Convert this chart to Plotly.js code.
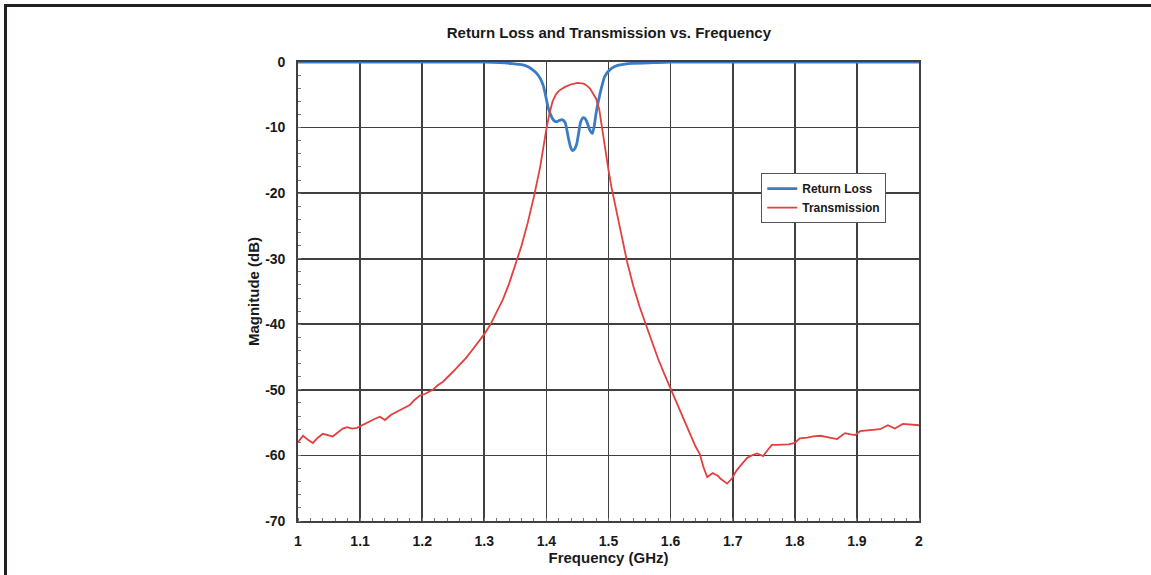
<!DOCTYPE html>
<html>
<head>
<meta charset="utf-8">
<script src="https://cdn.plot.ly/plotly-3.0.1.min.js"></script>
<style>
  html, body { margin: 0; padding: 0; background: #fff; }
  #wrap { position: relative; width: 1151px; height: 575px; overflow: hidden; }
  #chart { position: absolute; left: 0; top: 0; width: 1151px; height: 575px; }
  #frame { position: absolute; left: 4px; top: 4px; width: 1200px; height: 700px;
           border-left: 3px solid #231f20; border-top: 3px solid #231f20; pointer-events: none; }
</style>
</head>
<body>
<div id="wrap"><div id="chart"></div><div id="frame"></div></div>
<script>
// Transmission (S21), dB
const transFreq = [1.000,1.008,1.016,1.024,1.032,1.040,1.048,1.056,1.064,1.072,1.079,1.087,1.095,1.105,1.116,1.124,1.132,1.140,1.150,1.159,1.170,1.180,1.188,1.196,1.205,1.217,1.225,1.233,1.24,1.25,1.26,1.27,1.28,1.29,1.30,1.31,1.32,1.33,1.34,1.35,1.36,1.37,1.38,1.39,1.395,1.40,1.405,1.41,1.415,1.42,1.43,1.44,1.45,1.46,1.465,1.47,1.475,1.48,1.485,1.49,1.495,1.50,1.505,1.51,1.52,1.53,1.54,1.55,1.56,1.57,1.58,1.59,1.60,1.61,1.62,1.63,1.64,1.647,1.653,1.659,1.664,1.668,1.672,1.676,1.681,1.686,1.691,1.695,1.699,1.703,1.707,1.715,1.723,1.731,1.739,1.744,1.749,1.756,1.763,1.772,1.781,1.790,1.800,1.808,1.820,1.830,1.841,1.855,1.868,1.875,1.881,1.890,1.897,1.905,1.920,1.937,1.950,1.961,1.974,1.985,2.000];
const transDb = [-58.0,-57.0,-57.6,-58.1,-57.3,-56.7,-56.9,-57.1,-56.5,-55.9,-55.7,-55.9,-55.8,-55.3,-54.8,-54.4,-54.1,-54.6,-53.8,-53.3,-52.8,-52.3,-51.5,-50.9,-50.6,-50.0,-49.3,-48.8,-48.2,-47.2,-46.2,-45.2,-44.0,-42.8,-41.5,-40.0,-38.2,-36.2,-33.8,-31.0,-28.0,-24.5,-20.5,-16.0,-13.0,-10.2,-7.8,-6.0,-5.0,-4.4,-3.8,-3.4,-3.2,-3.3,-3.6,-4.0,-4.8,-5.6,-7.2,-10.5,-13.5,-16.5,-19.2,-21.5,-26.0,-30.5,-34.2,-37.3,-40.0,-42.8,-45.3,-47.6,-49.8,-52.0,-54.2,-56.5,-58.6,-59.8,-61.8,-63.3,-63.0,-62.7,-62.9,-63.1,-63.6,-64.0,-64.3,-63.9,-63.5,-62.8,-62.2,-61.3,-60.4,-60.0,-59.7,-59.9,-60.1,-59.2,-58.4,-58.4,-58.4,-58.3,-58.1,-57.4,-57.3,-57.1,-57.0,-57.3,-57.5,-57.0,-56.6,-56.8,-56.9,-56.3,-56.2,-56.0,-55.4,-55.9,-55.2,-55.3,-55.4];

// Return loss (S11), dB
const rlFreq = [1.00,1.30,1.325,1.345,1.362,1.372,1.378,1.385,1.39,1.395,1.398,1.403,1.409,1.413,1.417,1.421,1.425,1.43,1.435,1.439,1.442,1.446,1.449,1.452,1.455,1.459,1.462,1.465,1.470,1.474,1.477,1.480,1.483,1.489,1.494,1.502,1.510,1.518,1.539,1.572,1.60,2.00];
const rlDb = [0,-0.02,-0.1,-0.25,-0.45,-0.8,-1.2,-1.8,-2.5,-3.6,-4.8,-7.0,-8.5,-9.0,-9.1,-8.9,-8.8,-9.2,-11.4,-13.0,-13.5,-13.2,-12.4,-10.8,-9.2,-8.5,-8.6,-9.1,-10.4,-10.9,-9.8,-7.8,-6.3,-3.8,-2.2,-1.2,-0.7,-0.45,-0.2,-0.1,-0.02,0];

const xTickVals = [1,1.1,1.2,1.3,1.4,1.5,1.6,1.7,1.8,1.9,2];
const xTickText = ["1","1.1","1.2","1.3","1.4","1.5","1.6","1.7","1.8","1.9","2"];
const yTickVals = [0,-10,-20,-30,-40,-50,-60,-70];
const yTickText = ["0","-10","-20","-30","-40","-50","-60","-70"];

const font = "Liberation Sans, Arial, sans-serif";
const gridColor = "#404040";

const traces = [
  { x: rlFreq, y: rlDb, name: "Return Loss", type: "scatter", mode: "lines",
    line: { color: "#3b7dc4", width: 2.8, shape: "spline", smoothing: 0.6 } },
  { x: transFreq, y: transDb, name: "Transmission", type: "scatter", mode: "lines",
    line: { color: "#e2403f", width: 1.8 } }
];

const layout = {
  width: 1151, height: 575,
  margin: { l: 298, r: 232, t: 62, b: 54 },
  paper_bgcolor: "#ffffff", plot_bgcolor: "#ffffff",
  font: { family: font, color: "#1a1a1a" },
  title: { text: "<b>Return Loss and Transmission vs. Frequency</b>",
           font: { family: font, size: 15, color: "#1a1a1a" },
           x: 0.529, xanchor: "center", y: 0.943, yanchor: "middle" },
  xaxis: {
    range: [1, 2], tickvals: xTickVals, ticktext: xTickText,
    showgrid: true, gridcolor: gridColor, gridwidth: 1.8,
    showline: true, linecolor: gridColor, linewidth: 1.8, mirror: true,
    zeroline: false, ticks: "", ticklabelstandoff: 6,
    tickfont: { family: font, size: 14, color: "#1a1a1a", weight: "bold" },
    minor: { dtick: 0.02, ticks: "inside", ticklen: 3, tickcolor: "#777", showgrid: false },
    title: { text: "<b>Frequency (GHz)</b>", font: { family: font, size: 15, color: "#1a1a1a" }, standoff: 1 }
  },
  yaxis: {
    range: [-70, 0], tickvals: yTickVals, ticktext: yTickText,
    showgrid: true, gridcolor: gridColor, gridwidth: 1.8,
    showline: true, linecolor: gridColor, linewidth: 1.8, mirror: true,
    zeroline: false, ticks: "", ticklabelstandoff: 8,
    tickfont: { family: font, size: 14, color: "#1a1a1a", weight: "bold" },
    minor: { dtick: 2, ticks: "inside", ticklen: 3, tickcolor: "#777", showgrid: false },
    title: { text: "<b>Magnitude (dB)</b>", font: { family: font, size: 15, color: "#1a1a1a" }, standoff: 2 }
  },
  legend: {
    x: 0.746, y: 0.758, xanchor: "left", yanchor: "top",
    bgcolor: "#ffffff", bordercolor: "#555", borderwidth: 1,
    font: { family: font, size: 12, color: "#1a1a1a", weight: "bold" },
    tracegroupgap: 0, itemwidth: 30
  },
  showlegend: true
};

Plotly.newPlot("chart", traces, layout, { displayModeBar: false, staticPlot: true });
</script>
</body>
</html>
